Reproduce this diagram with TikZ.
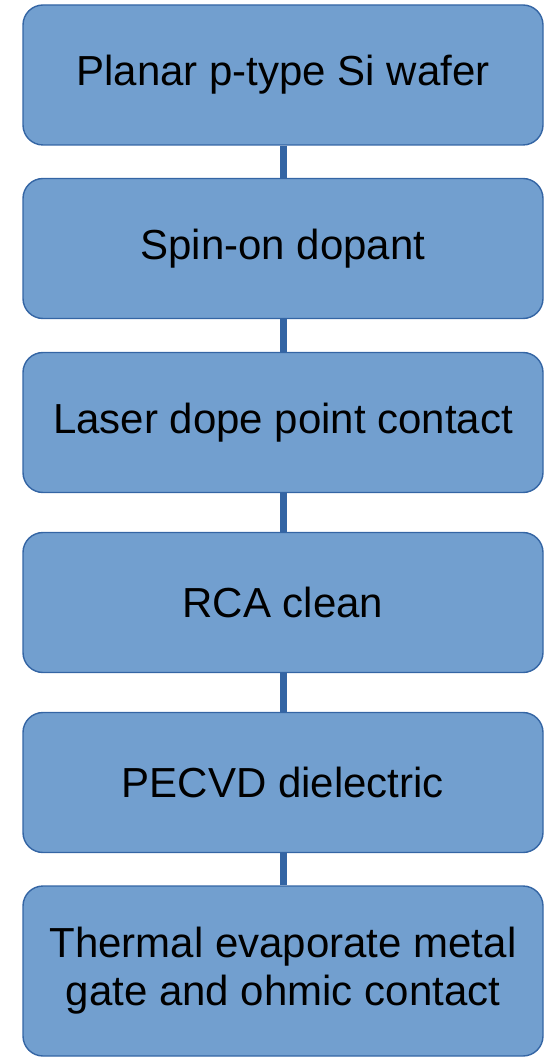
\documentclass[tikz,border=0pt]{standalone}
\usepackage{fontspec}
\setmainfont{Liberation Sans}
\definecolor{boxfill}{HTML}{729FCF}
\definecolor{boxline}{HTML}{3465A4}
\tikzset{
    stepbox/.style={draw=boxline,line width=0.7pt,fill=boxfill,rounded corners=10pt,
        minimum width=260pt,minimum height=70pt,align=center,text=black,
        font=\fontsize{21}{24}\selectfont},
    link/.style={draw=boxline,line width=3.5pt}
}
\begin{document}
\begin{tikzpicture}[x=0.5pt,y=-0.5pt]
    \useasboundingbox (0,0) rectangle (547,1058);
    \node[stepbox] (wafer) at (283,75) {Planar p-type Si wafer};
    \node[stepbox] (sod) at (283,248.5) {Spin-on dopant};
    \node[stepbox] (laser) at (283,422.5) {Laser dope point contact};
    \node[stepbox] (rca) at (283,602.5) {RCA clean};
    \node[stepbox] (pecvd) at (283,782.5) {PECVD dielectric};
    \node[stepbox,minimum height=85pt] (metal) at (283,971) {Thermal evaporate metal\\gate and ohmic contact};
    \foreach \a/\b in {wafer/sod,sod/laser,laser/rca,rca/pecvd,pecvd/metal}
        \draw[link] (\a) -- (\b);
\end{tikzpicture}
\end{document}
